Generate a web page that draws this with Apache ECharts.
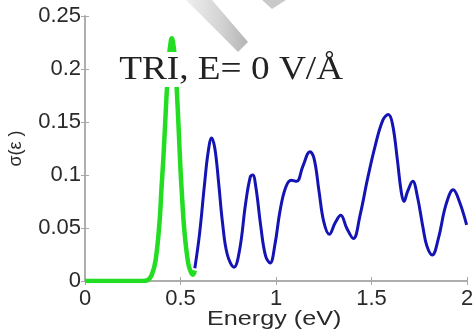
<!DOCTYPE html>
<html>
<head>
<meta charset="utf-8">
<script src="https://cdn.jsdelivr.net/npm/echarts@6/dist/echarts.min.js"></script>
<style>
  html, body { margin: 0; padding: 0; background: #fff; }
  #chart { width: 476px; height: 336px; }
</style>
</head>
<body>
<div id="chart"></div>
<script>
// Optical conductivity spectrum, TRI at zero field
const greenEnergy = [0, 0.10, 0.20, 0.30, 0.33, 0.35, 0.37, 0.39, 0.40, 0.41, 0.42, 0.43, 0.44, 0.45, 0.455, 0.46, 0.47, 0.48, 0.49, 0.50, 0.506, 0.52, 0.54, 0.555, 0.565, 0.575];
const greenSigma  = [0, 0, 0, 0, 0.001, 0.006, 0.020, 0.055, 0.086, 0.115, 0.150, 0.185, 0.212, 0.227, 0.229, 0.226, 0.212, 0.182, 0.145, 0.105, 0.086, 0.048, 0.017, 0.008, 0.006, 0.010];

const blueEnergy = [0.575, 0.60, 0.625, 0.645, 0.663, 0.68, 0.70, 0.72, 0.745, 0.78, 0.81, 0.84, 0.865, 0.878, 0.895, 0.92, 0.945, 0.969, 0.995, 1.02, 1.05, 1.08, 1.108, 1.14, 1.178, 1.20, 1.225, 1.25, 1.279, 1.31, 1.339, 1.37, 1.405, 1.44, 1.48, 1.52, 1.56, 1.588, 1.61, 1.635, 1.655, 1.67, 1.69, 1.716, 1.74, 1.77, 1.79, 1.818, 1.85, 1.89, 1.928, 1.96, 1.998];
const blueSigma  = [0.012, 0.045, 0.090, 0.122, 0.135, 0.125, 0.092, 0.055, 0.025, 0.013, 0.030, 0.072, 0.098, 0.100, 0.088, 0.052, 0.024, 0.017, 0.035, 0.065, 0.088, 0.095, 0.094, 0.108, 0.122, 0.115, 0.085, 0.056, 0.044, 0.055, 0.062, 0.050, 0.040, 0.062, 0.097, 0.128, 0.152, 0.157, 0.148, 0.115, 0.085, 0.075, 0.085, 0.094, 0.080, 0.050, 0.033, 0.0245, 0.040, 0.072, 0.086, 0.075, 0.053];

const xTicks = [0, 0.5, 1, 1.5, 2];
const yTicks = [0, 0.05, 0.1, 0.15, 0.2, 0.25];

const titleText = 'TRI, E= 0 V/\u00C5';
const xName = 'Energy (eV)';
const yName = '\u03C3(\u03B5 )';

const pair = (xs, ys) => xs.map((x, i) => [x, ys[i]]);

const chart = echarts.init(document.getElementById('chart'), null, { renderer: 'canvas' });

const axisColor = '#a8a8a8';
const sansFamily = 'Liberation Sans, Arial, sans-serif';
const labelFont = { color: '#2a2a2a', fontFamily: sansFamily, fontSize: 22 };

const fmtX = v => xTicks.includes(v) ? String(v) : '';
const fmtY = v => {
  const t = yTicks.find(t => Math.abs(t - v) < 1e-9);
  return t === undefined ? '' : String(t);
};

const tickStyle = { show: true, inside: true, length: 4, lineStyle: { color: axisColor } };
const lineStyleAxis = { show: true, lineStyle: { color: axisColor, width: 1.5 } };

chart.setOption({
  animation: false,
  backgroundColor: '#ffffff',
  grid: { left: 85, right: 9, top: 16, bottom: 55, containLabel: false, outerBoundsMode: 'none' },
  xAxis: [
    {
      type: 'value', min: 0, max: 2, interval: 0.5,
      axisLine: lineStyleAxis, axisTick: tickStyle,
      axisLabel: { ...labelFont, margin: 7, formatter: fmtX },
      splitLine: { show: false }
    },
    {
      type: 'value', min: 0, max: 2, interval: 0.5, position: 'top',
      axisLine: lineStyleAxis, axisTick: tickStyle,
      axisLabel: { show: false }, splitLine: { show: false }
    }
  ],
  yAxis: [
    {
      type: 'value', min: 0, max: 0.25, interval: 0.05,
      axisLine: lineStyleAxis, axisTick: tickStyle,
      axisLabel: { ...labelFont, margin: 4, formatter: fmtY },
      splitLine: { show: false },
      name: yName, nameLocation: 'middle', nameGap: 60, nameRotate: 90,
      nameTextStyle: { ...labelFont, fontSize: 18 }
    },
    {
      type: 'value', min: 0, max: 0.25, interval: 0.05, position: 'right',
      axisLine: lineStyleAxis, axisTick: tickStyle,
      axisLabel: { show: false }, splitLine: { show: false }
    }
  ],
  series: [
    {
      type: 'line', name: 'green', data: pair(greenEnergy, greenSigma),
      smooth: 0.4, showSymbol: false, z: 3,
      lineStyle: { color: '#22dd22', width: 4.5 }
    },
    {
      type: 'line', name: 'blue', data: pair(blueEnergy, blueSigma),
      smooth: 0.4, showSymbol: false, z: 4,
      lineStyle: { color: '#1414b4', width: 3 }
    }
  ],
  graphic: [
    {
      // in-plot annotation, stretched slightly wider
      type: 'text', x: 118, y: 52, scaleX: 1.13, z: 10,
      style: {
        text: titleText, fill: '#222',
        font: '33px "Liberation Serif", "Times New Roman", serif',
        backgroundColor: '#ffffff', padding: [2, 1, 0, 1]
      }
    },
    {
      // x-axis title
      type: 'text', x: 207, y: 309, scaleX: 1.2, z: 10,
      style: {
        text: xName, fill: '#2a2a2a',
        font: '21px "Liberation Sans", Arial, sans-serif'
      }
    },
    {
      type: 'polygon', z: 11, silent: true,
      shape: { points: [[186, 0], [212, 0], [248, 42], [238, 52]] },
      style: {
        fill: new echarts.graphic.LinearGradient(0, 0, 1, 0, [
          { offset: 0, color: 'rgba(238,238,238,0.95)' },
          { offset: 0.55, color: 'rgba(210,210,210,0.95)' },
          { offset: 1, color: 'rgba(175,175,175,0.95)' }
        ])
      }
    },
    {
      type: 'polygon', z: 11, silent: true,
      shape: { points: [[262, 0], [286, 0], [272, 9]] },
      style: { fill: 'rgba(195,195,195,0.9)' }
    }
  ]
});
</script>
</body>
</html>
